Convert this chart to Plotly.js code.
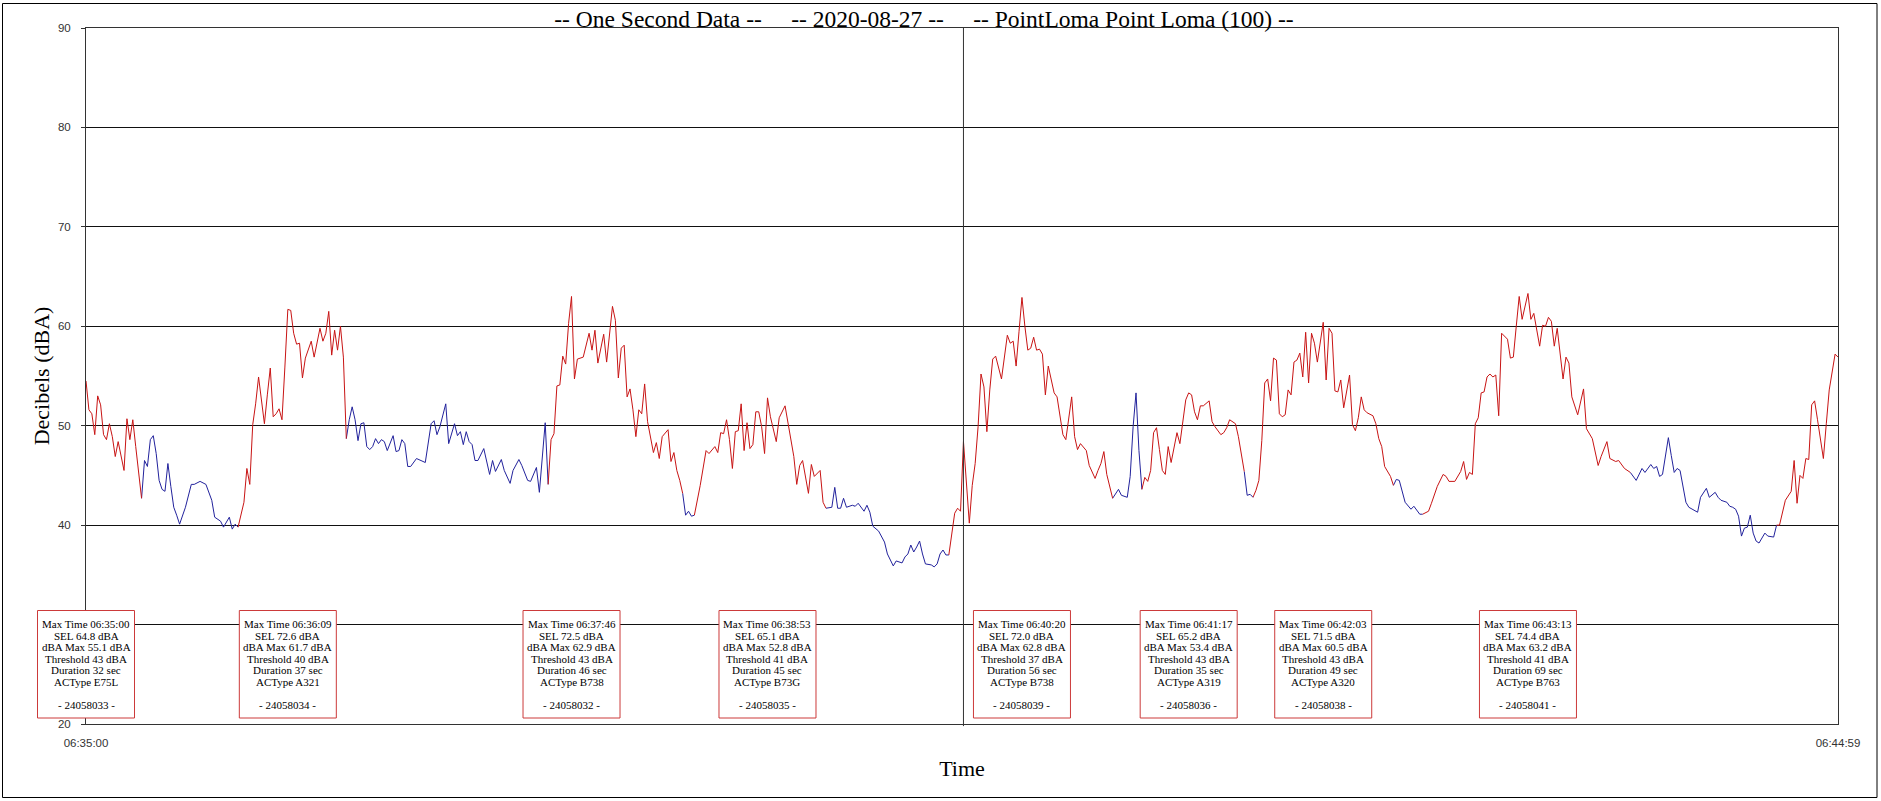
<!DOCTYPE html>
<html><head><meta charset="utf-8">
<script src="https://cdn.plot.ly/plotly-3.0.1.min.js"></script>
<style>html,body{margin:0;padding:0;background:#fff;}#chart{width:1881px;height:801px;}</style>
</head><body><div id="chart"></div>
<script>
// seconds after 06:35:00
const seconds = [0,1,2,3,4,5,6,7,8,9,10,11,13,14,15,16,17,18,19,20,21,22,23,24,25,26,27,28,29,30,31,32,34,36,37,39,41,43,44,46,47,48,49,50,51,52,54,55,56,57,58,59,60,61,62,63,64,65,66,67,68,69,70,71,72,73,74,75,77,78,80,81,82,83,84,85,86,87,88,89,90,91,92,93,94,95,96,97,98,99,100,
101,102,103,105,106,107,108,109,110,111,113,116,118,119,120,121,123,124,126,127,128,129,130,131,132,133,134,136,138,139,140,142,143,145,146,148,149,151,152,154,155,156,157,158,159,160,161,162,163,164,165,166,167,168,170,172,173,174,175,177,178,180,181,182,183,184,185,186,187,188,189,190,191,192,194,195,196,197,199,200,
201,202,203,204,205,206,207,208,210,212,213,215,216,217,218,219,220,221,222,223,224,225,226,227,228,229,230,231,232,233,234,236,237,239,240,242,243,244,245,247,248,249,251,252,253,255,256,257,258,259,260,262,263,264,266,267,268,269,271,273,274,276,277,279,280,281,282,283,284,285,286,287,289,290,291,292,293,294,295,296,297,298,299,
300,301,302,303,304,305,306,307,308,309,310,311,313,315,316,317,318,319,320,321,322,323,324,325,326,327,328,329,330,331,332,333,334,335,336,337,338,339,340,342,343,345,346,347,348,349,351,353,354,356,357,358,359,360,361,362,363,364,365,366,367,368,369,370,371,372,373,374,375,376,377,378,379,380,381,382,384,385,386,388,389,390,391,393,394,395,396,397,398,399,
400,401,402,403,404,405,406,407,408,409,410,411,412,413,414,415,416,417,418,419,420,421,422,423,424,425,426,427,428,429,430,431,432,433,434,435,436,437,438,440,441,442,443,444,446,447,448,449,450,451,453,454,456,457,459,460,462,464,465,466,468,470,471,472,473,474,475,476,477,478,479,480,481,482,483,484,486,487,488,489,490,491,493,494,495,497,498,499,
500,501,502,503,504,505,506,507,508,509,510,512,513,515,517,518,520,521,523,524,526,528,530,532,533,535,536,537,538,539,540,541,542,543,544,545,547,548,551,552,554,555,557,558,559,561,562,563,564,565,566,567,568,569,570,571,572,574,575,577,578,579,581,583,584,585,586,587,588,589,590,591,592,594,595,596,598,599];
const dba = [54.5,51.6,51.2,49.1,53.0,52.1,49.1,48.6,50.2,48.9,46.9,48.4,45.5,50.7,48.6,50.6,47.9,45.5,42.7,46.5,45.9,48.6,49.0,47.2,44.5,43.6,43.4,46.2,43.9,41.8,41.0,40.1,41.8,44.1,44.1,44.4,44.1,42.5,40.8,40.4,39.8,40.3,40.8,39.6,40.1,39.8,42.3,45.7,44.1,50.1,52.2,54.9,52.6,50.2,53.1,55.8,50.9,51.2,51.7,50.6,55.9,61.7,61.6,59.3,58.2,58.3,54.8,56.8,58.5,56.9,59.8,58.5,59.3,61.5,57.1,59.6,57.6,60.0,56.9,48.7,50.6,51.9,50.6,48.5,50.2,50.3,47.9,47.6,47.9,48.7,48.2,
48.6,48.4,47.5,49.0,47.4,47.5,48.6,48.2,45.9,45.9,46.7,46.3,50.2,50.5,49.1,49.9,52.2,48.2,50.2,49.0,49.4,48.1,49.4,48.4,48.1,46.5,46.5,47.7,45.1,46.5,45.4,46.6,45.5,44.2,45.5,46.6,46.0,44.5,44.4,45.8,43.3,46.5,50.3,44.1,48.6,49.2,54.0,54.1,57.0,56.2,60.3,63.0,54.7,56.7,56.9,59.3,57.6,59.6,56.3,59.2,56.4,62.0,60.6,54.8,57.8,58.1,52.9,53.7,51.6,48.9,51.6,51.2,54.2,50.4,47.3,48.3,46.7,48.9,49.6,46.4,
47.3,45.5,44.5,43.2,41.0,41.4,40.9,41.0,44.0,47.5,47.2,47.9,47.3,49.3,49.2,50.6,48.6,45.7,49.4,49.5,52.2,47.5,50.3,47.7,48.1,51.4,51.4,49.9,47.2,52.8,50.9,48.4,50.8,52.0,50.4,46.9,44.1,46.0,46.5,43.2,46.1,44.9,45.5,42.3,41.7,41.8,43.8,41.7,41.7,42.7,41.8,42.0,41.9,42.2,41.4,42.0,41.3,39.9,39.4,38.3,37.1,35.9,36.4,36.2,36.8,37.1,38.0,37.3,37.8,38.4,37.1,36.1,36.0,35.8,36.1,37.1,37.5,37.0,37.0,39.2,41.2,41.7,41.4,
48.4,44.2,40.2,44.0,46.2,49.9,55.2,53.9,49.4,53.6,56.7,57.0,54.7,59.1,58.3,58.5,56.0,59.5,62.9,60.0,57.6,57.8,58.9,57.6,57.7,57.2,53.1,56.0,54.6,53.3,52.9,51.1,49.1,48.6,50.6,52.9,48.9,47.6,48.2,47.5,46.0,44.7,45.5,46.2,47.4,45.1,42.7,43.6,43.0,42.8,44.9,49.9,53.3,47.5,43.6,44.8,44.4,45.5,49.3,49.8,47.6,45.5,45.1,47.9,46.3,47.9,49.3,48.2,50.6,52.6,53.3,53.1,51.4,50.6,52.0,52.0,52.5,50.4,49.9,49.1,49.3,49.8,50.6,50.2,48.9,47.2,45.4,43.0,43.1,42.8,
43.5,44.5,48.5,54.3,54.7,52.5,56.8,56.6,51.2,50.9,51.1,53.6,53.1,56.4,56.6,57.3,54.9,59.4,54.3,59.3,58.3,56.4,58.7,60.4,54.6,59.8,59.3,53.5,53.4,54.6,51.8,53.3,55.1,50.1,49.5,50.8,52.9,51.6,51.3,51.0,50.2,48.7,47.9,45.9,44.9,44.0,44.6,44.5,43.4,42.3,41.6,41.9,41.1,41.1,41.4,42.2,43.9,45.1,44.9,44.4,44.4,45.4,46.4,44.6,45.3,45.1,50.2,50.8,53.3,53.4,54.9,55.2,54.9,55.1,51.0,59.3,58.7,56.8,56.9,60.0,63.0,60.7,63.3,60.7,61.3,58.0,60.1,60.0,
60.9,60.5,58.0,59.8,57.3,54.7,56.9,56.3,52.9,51.9,51.1,53.7,49.7,48.7,46.0,46.9,48.4,46.7,46.4,46.5,45.7,45.3,44.5,45.7,45.3,46.1,45.7,45.9,44.9,45.1,47.2,48.8,47.0,45.3,45.7,45.5,42.3,41.8,41.3,42.8,43.7,42.8,43.3,42.8,42.5,42.3,41.9,41.8,41.6,40.9,38.9,39.7,39.8,41.0,39.2,38.4,38.2,39.2,38.9,38.8,40.0,40.0,42.5,43.4,46.5,42.2,45.0,44.7,46.7,46.6,52.1,52.5,50.6,46.7,50.2,53.6,57.2,56.9];

// aircraft noise event spans (drawn red), seconds after 06:35:00
const eventStart = [0,52,158,208,295,361,399,457,578];
const eventEnd   = [19,89,204,253,351,396,447,528,599];

// event boxes
const boxMaxTime   = ["06:35:00","06:36:09","06:37:46","06:38:53","06:40:20","06:41:17","06:42:03","06:43:13"];
const boxSEL       = [64.8,72.6,72.5,65.1,72.0,65.2,71.5,74.4];
const boxMaxDba    = [55.1,61.7,62.9,52.8,62.8,53.4,60.5,63.2];
const boxThreshold = [43,40,43,41,37,43,43,41];
const boxDuration  = [32,37,46,45,56,35,49,69];
const boxACType    = ["E75L","A321","B738","B73G","B738","A319","A320","B763"];
const boxEventId   = ["24058033","24058034","24058032","24058035","24058039","24058036","24058038","24058041"];

// y tick labels (the "30" label sits hidden under the first event box in the reference)
const yTickVals = [20,30,40,50,60,70,80,90];
const yTickText = ["20","","40","50","60","70","80","90"];
const xTickVals = [0,599];
const xTickText = ["06:35:00","06:44:59"];
const markerTime = 300; // 06:40:00

const titleText = "-- One Second Data --\u00a0\u00a0\u00a0\u00a0\u00a0-- 2020-08-27 --\u00a0\u00a0\u00a0\u00a0\u00a0-- PointLoma Point Loma (100) --";

// ---- geometry (pixels) ----
const W = 1881, H = 801, L = 86, R = 1838, T = 28, B = 724;
const PW = R - L, PH = B - T;
const XMIN = 0, XMAX = 599;
const px = p => (p - L) / PW;
const py = p => (B - p) / PH;

function inside(t, strict) {
  for (let i = 0; i < eventStart.length; i++) {
    if (strict ? (t > eventStart[i] && t < eventEnd[i]) : (t >= eventStart[i] && t <= eventEnd[i])) return true;
  }
  return false;
}
const redY = dba.map((v, i) => inside(seconds[i], false) ? v : null);
const blueY = dba.map((v, i) => inside(seconds[i], true) ? null : v);

const traces = [
  {x: seconds, y: blueY, type: 'scatter', mode: 'lines', line: {color: '#22229C', width: 1}, connectgaps: false, hoverinfo: 'skip', showlegend: false},
  {x: seconds, y: redY, type: 'scatter', mode: 'lines', line: {color: '#C81414', width: 1}, connectgaps: false, hoverinfo: 'skip', showlegend: false}
];

const toSec = s => { const p = s.split(':').map(Number); return (p[0]*3600 + p[1]*60 + p[2]) - (6*3600 + 35*60); };

const shapes = [
  {type: 'line', xref: 'x', yref: 'paper', x0: markerTime, x1: markerTime, y0: -0.003, y1: 1, line: {color: '#333', width: 1}, layer: 'above'},
  {type: 'rect', xref: 'paper', yref: 'paper', x0: px(2.5), x1: px(1877), y0: py(3.5), y1: py(797.5), line: {color: '#000', width: 1}, fillcolor: 'rgba(0,0,0,0)'}
];
const annotations = [];
const lineY = [624, 635.5, 647, 658.5, 670, 681.5, 705];
boxMaxTime.forEach((mt, i) => {
  const cx = L + (toSec(mt) - XMIN) / (XMAX - XMIN) * PW;
  shapes.push({type: 'rect', xref: 'paper', yref: 'paper', x0: px(cx - 48.5), x1: px(cx + 48.5), y0: py(610.5), y1: py(718),
    line: {color: '#CC3A3A', width: 1}, fillcolor: '#fff', layer: 'above'});
  const lines = ["Max Time " + mt, "SEL " + boxSEL[i].toFixed(1) + " dBA", "dBA Max " + boxMaxDba[i].toFixed(1) + " dBA",
    "Threshold " + boxThreshold[i] + " dBA", "Duration " + boxDuration[i] + " sec", "ACType " + boxACType[i], "- " + boxEventId[i] + " -"];
  lines.forEach((txt, j) => {
    annotations.push({xref: 'paper', yref: 'paper', x: px(cx), y: py(lineY[j]), xanchor: 'center', yanchor: 'middle',
      text: txt, showarrow: false, font: {family: 'Liberation Serif', size: 11, color: '#000'}});
  });
});

const layout = {
  width: W, height: H,
  margin: {l: L, r: W - R, t: T, b: H - B, pad: 0},
  paper_bgcolor: '#fff', plot_bgcolor: '#fff',
  showlegend: false,
  title: {text: titleText, font: {family: 'Liberation Serif', size: 23.5, color: '#000'}, x: px(924), xref: 'paper', xanchor: 'center', y: 1 - 19/H, yref: 'container', yanchor: 'middle'},
  xaxis: {range: [XMIN, XMAX], tickvals: xTickVals, ticktext: xTickText, ticks: '', showgrid: false, zeroline: false,
    showline: true, mirror: true, linecolor: '#333', linewidth: 1, ticklabelstandoff: 8,
    tickfont: {family: 'Liberation Sans', size: 11.5, color: '#333'},
    title: {text: 'Time', font: {family: 'Liberation Serif', size: 22, color: '#000'}, standoff: 12}, automargin: false},
  yaxis: {range: [20, 90], tickvals: yTickVals, ticktext: yTickText, ticks: 'outside', ticklen: 4, tickcolor: '#333', showgrid: true, gridcolor: '#111', gridwidth: 1,
    zeroline: false, showline: true, mirror: true, linecolor: '#333', linewidth: 1, ticklabelstandoff: 8,
    tickfont: {family: 'Liberation Sans', size: 11.5, color: '#333'},
    title: {text: 'Decibels (dBA)', font: {family: 'Liberation Serif', size: 22, color: '#000'}, standoff: 1.5}, automargin: false},
  shapes: shapes, annotations: annotations
};
Plotly.newPlot('chart', traces, layout, {staticPlot: true, displayModeBar: false});
</script></body></html>
